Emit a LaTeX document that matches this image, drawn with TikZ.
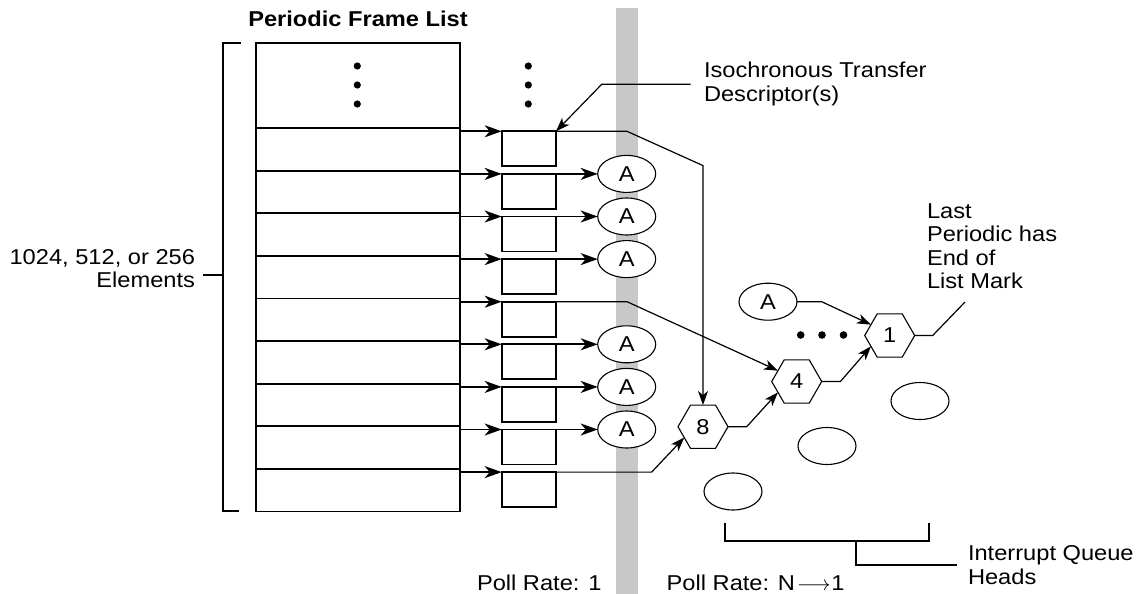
\documentclass[tikz,border=0pt]{standalone}
\usepackage{fontspec}
\setmainfont{Liberation Sans}[FakeStretch=1.1]
\usetikzlibrary{shapes.geometric,arrows.meta,calc}
\definecolor{bandgray}{RGB}{200,200,200}
\tikzset{
  every node/.style={font=\fontsize{21.5}{23.5}\selectfont, inner sep=0pt, outer sep=0pt},
  frame/.style={draw, line width=1.8pt, minimum width=204.3pt},
  tdbox/.style={draw, line width=1.8pt, minimum width=54.3pt, minimum height=35pt},
  ell/.style={draw, ellipse, fill=white, line width=1.1pt, minimum width=58pt, minimum height=37pt},
  hexa/.style={draw, regular polygon, regular polygon sides=6, fill=white, line width=1.1pt, minimum size=50pt},
  arr/.style={line width=1.8pt, -{Stealth[length=17pt,width=12pt,inset=5pt]}},
  thinarr/.style={line width=1.2pt, -{Stealth[length=14pt,width=10pt,inset=4pt]}},
  thick line/.style={line width=1.8pt},
  thin line/.style={line width=1.2pt},
  bigdot/.style={fill=black}
}
\begin{document}
\begin{tikzpicture}[x=1pt,y=-1pt]
\useasboundingbox (0,0) rectangle (1138,594);
% poll-rate band
\fill[bandgray] (616,8) rectangle (638,594);

% title
\node[font=\fontsize{21.5}{23.5}\selectfont\bfseries, anchor=base] (title) at (358,26.7) {Periodic Frame List};

% frame list
\node[frame, minimum height=85pt, anchor=north west] (fr0) at (255.7,43) {};
\foreach \i in {1,...,9}{
  \pgfmathsetmacro\ry{128+42.6*(\i-1)}
  \node[frame, minimum height=42.6pt, anchor=north west] (fr\i) at (255.7,\ry) {};
  \node[tdbox, anchor=north west] (td\i) at (501.7,\ry+3.3) {};
  \draw[arr] ($(fr\i.north east)+(0,3.3)$) -- (td\i.north west);
}
% vertical ellipsis dots
\foreach \yy in {66,85,104}{
  \fill[bigdot] (357.3,\yy) circle (3.6pt);
  \fill[bigdot] (528.3,\yy) circle (3.6pt);
}

% bracket for elements
\coordinate (bt) at (240.7,43);
\coordinate (bb) at (239.3,511);
\draw[thick line] (bt) -- (223.3,43) -- (223.3,511) -- (bb);
\node[align=right, anchor=north east] (elem) at (195,249) {1024, 512, or 256\\Elements};
\coordinate (tk) at (203,275);
\draw[thick line] (tk) -- (223.3,275);

% A nodes after the TDs
\foreach \i in {2,3,4,6,7,8}{
  \pgfmathsetmacro\ry{128+42.6*(\i-1)+3.3}
  \node[ell] (a\i) at (626.7,\ry) {A};
  \draw[arr] (td\i.north east) -- (a\i.west);
}

% interrupt tree
\node[hexa] (h8) at (703,426.7) {8};
\node[hexa] (h4) at (796.7,381.5) {4};
\node[hexa] (h1) at (889.7,335.5) {1};
\node[ell] (at) at (768,301.7) {A};
\node[ell] (e1) at (733,491.5) {};
\node[ell] (e2) at (827,446) {};
\node[ell] (e3) at (920,401) {};
\foreach \xx in {800.7,822,843.5}{ \fill[bigdot] (\xx,335) circle (3.8pt); }

\draw[thinarr] (td1.north east) -- ++(71,0) -- ++(76,34.3) -- (h8.north);
\draw[thinarr] (td5.north east) -- ++(71,0) -- (h4.150);
\draw[thinarr] (td9.north east) -- ++(95.7,0) -- (h8.210);
\draw[thinarr] (h8.east) -- ++(18.7,0) -- (h4.210);
\draw[thinarr] (h4.east) -- ++(18.7,0) -- (h1.210);
\draw[thinarr] (at.east) -- ++(24.7,0) -- (h1.150);

% last periodic label
\node[align=left, anchor=north west] (last) at (927,203.5) {Last\\Periodic has\\End of\\List Mark};
\coordinate (lastend) at (965,302);
\draw[thin line] (h1.east) -- ++(18,0) -- (lastend);

% isochronous label
\node[align=left, anchor=north west] (iso) at (704,62) {Isochronous Transfer\\Descriptor(s)};
\coordinate (isoend) at (690.7,84.3);
\draw[thinarr] (isoend) -- ++(-89,0) -- (td1.north east);

% interrupt queue heads bracket
\coordinate (ql) at (724.7,523);
\coordinate (qr) at (929,523);
\draw[thick line] (ql) -- (724.7,540.7) -- (929,540.7) -- (qr);
\node[align=left, anchor=west] (iqh) at (968,565) {Interrupt Queue\\Heads};
\draw[thick line] (856,540.7) -- (856,564.7) -- (956.7,564.7);

% poll rates
\node[anchor=base west] (pr1) at (477,590) {Poll Rate: 1};
\node[anchor=base west] (prn) at (666.7,590) {Poll Rate: N\kern2pt$\longrightarrow$\kern1pt1};
\end{tikzpicture}
\end{document}
